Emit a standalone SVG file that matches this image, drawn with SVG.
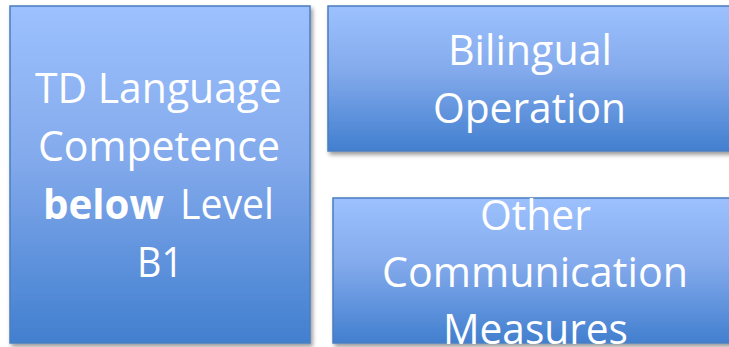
<svg xmlns="http://www.w3.org/2000/svg" width="729" height="347" viewBox="0 0 729 347">
  <defs>
    <linearGradient id="g" x1="0" y1="0" x2="0" y2="1">
      <stop offset="0" stop-color="#9DC1FE"/>
      <stop offset="0.45" stop-color="#83AAEC"/>
      <stop offset="1" stop-color="#427FCF"/>
    </linearGradient>
    <filter id="sh" x="-10%" y="-10%" width="120%" height="120%">
      <feDropShadow dx="2" dy="3" stdDeviation="2" flood-color="#000" flood-opacity="0.4"/>
    </filter>
  </defs>
  <style>
    .box { fill: url(#g); stroke: #4A7EC0; stroke-width: 1.5; filter: url(#sh); }
    .t { font-family: "Open Sans", "Liberation Sans", sans-serif; font-size: 42px; fill: #FFFFFF; }
    .b { font-weight: bold; }
  </style>
  <rect width="729" height="347" fill="#FFFFFF"/>
  <g id="connectors"></g>
  <g id="node-td">
    <rect class="box" x="10" y="6" width="300" height="337"/>
    <text class="t" x="35" y="103" textLength="247" lengthAdjust="spacingAndGlyphs">TD Language</text>
    <text class="t" x="38" y="161" textLength="242" lengthAdjust="spacingAndGlyphs">Competence</text>
    <text class="t b" x="43" y="219" textLength="121" lengthAdjust="spacingAndGlyphs">below</text>
    <text class="t" x="180" y="219" textLength="94" lengthAdjust="spacingAndGlyphs">Level</text>
    <text class="t" x="137" y="277" textLength="46" lengthAdjust="spacingAndGlyphs">B1</text>
  </g>
  <g id="node-bilingual">
    <rect class="box" x="328" y="6" width="406" height="145"/>
    <text class="t" x="448" y="65" textLength="164" lengthAdjust="spacingAndGlyphs">Bilingual</text>
    <text class="t" x="433" y="123" textLength="193" lengthAdjust="spacingAndGlyphs">Operation</text>
  </g>
  <g id="node-other">
    <rect class="box" x="333" y="198" width="406" height="145"/>
    <text class="t" x="480" y="230" textLength="111" lengthAdjust="spacingAndGlyphs">Other</text>
    <text class="t" x="382" y="287" textLength="306" lengthAdjust="spacingAndGlyphs">Communication</text>
    <text class="t" x="443" y="344" textLength="185" lengthAdjust="spacingAndGlyphs">Measures</text>
  </g>
</svg>
